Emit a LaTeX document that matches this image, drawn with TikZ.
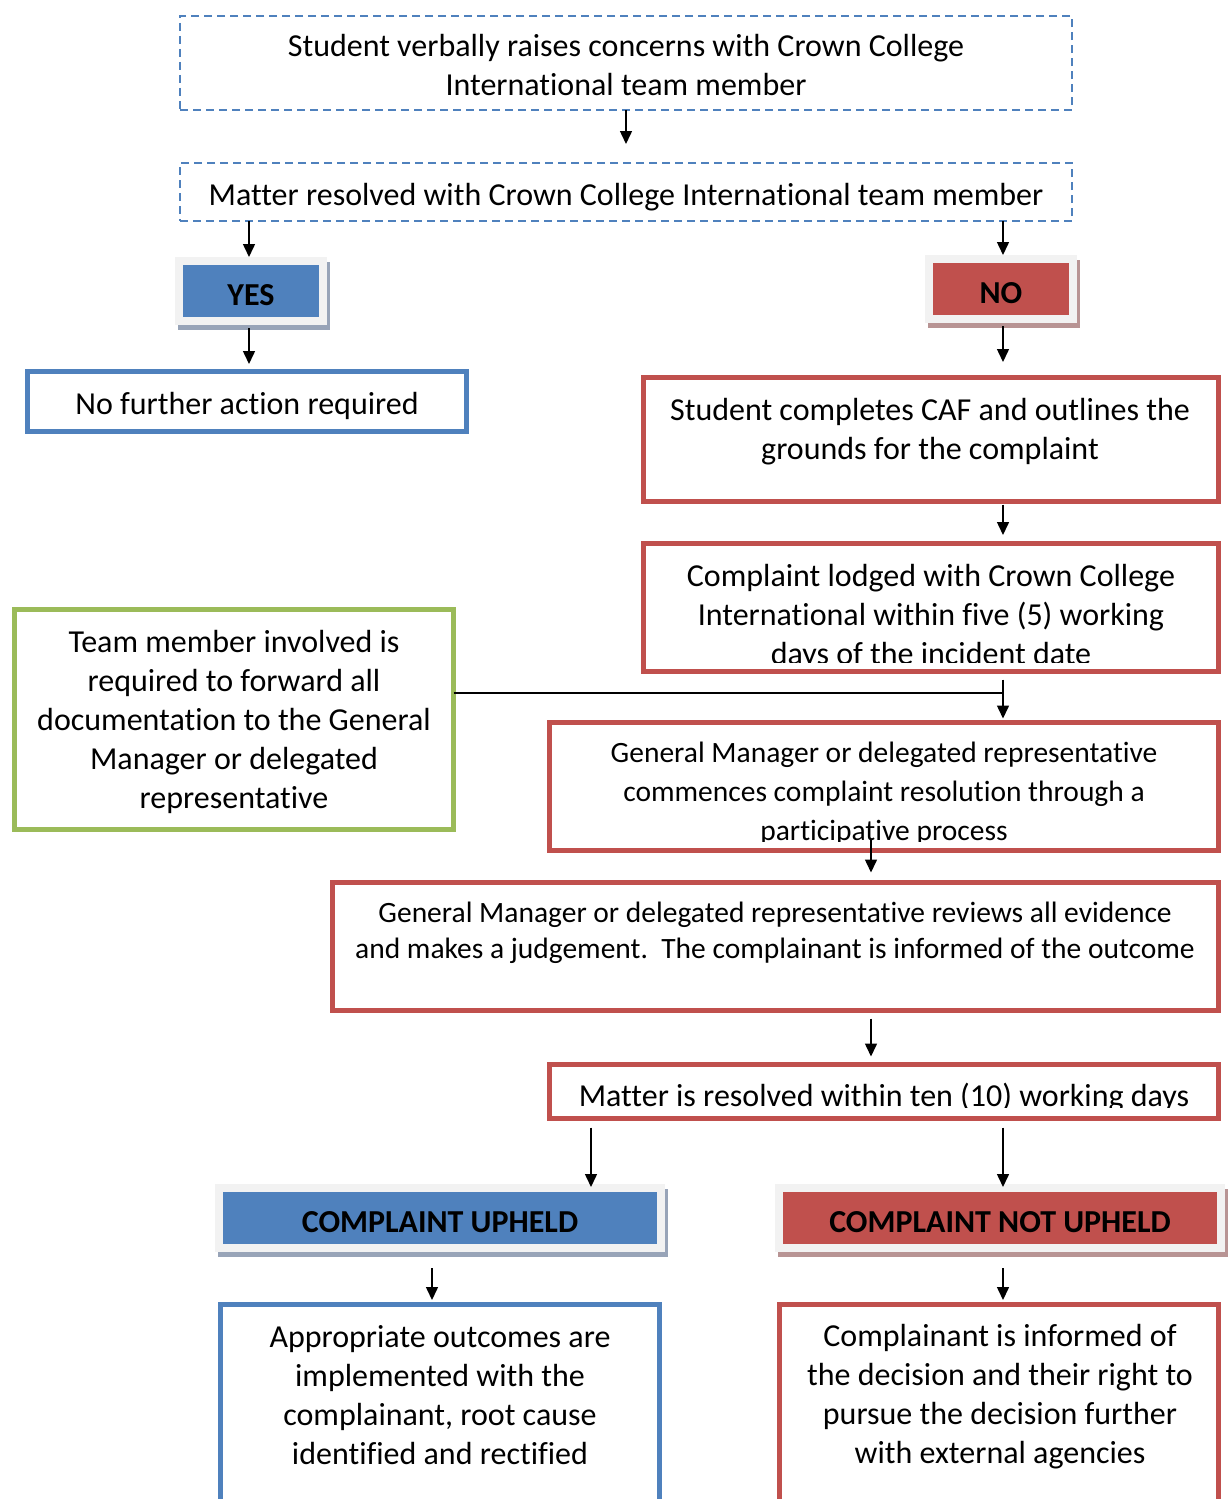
\documentclass[tikz,border=0pt]{standalone}
\usepackage{fontspec}
\setmainfont[Ligatures={NoCommon}]{Carlito}
\usetikzlibrary{arrows.meta,backgrounds}
\definecolor{cblue}{HTML}{4F81BD}
\definecolor{cred}{HTML}{C0504D}
\definecolor{cgreen}{HTML}{9BBB59}
\definecolor{cframe}{HTML}{F2F2F2}
\definecolor{bshadow}{HTML}{98A4B8}
\definecolor{rshadow}{HTML}{B89494}
\begin{document}
\begin{tikzpicture}[x=1pt,y=-1pt,
  dbox/.style={draw=cblue, line width=2pt, dash pattern=on 8pt off 5pt, anchor=north west, inner sep=0, outer sep=0},
  sbox/.style={draw=#1, line width=5pt, anchor=north west, inner sep=0, outer sep=0},
  lbl/.style={fill=#1, draw=cframe, line width=8pt, anchor=north west, inner sep=0, outer sep=0, text height=28.6pt, text depth=0pt, font=\fontsize{32}{39}\selectfont\bfseries},
  txt/.style={align=center, inner sep=0, font=\fontsize{32}{39}\selectfont},
  stxt/.style={align=center, inner sep=0, font=\fontsize{29.5}{39}\selectfont},
  arr/.style={-{Triangle[width=12pt,length=13pt]}, line width=1.5pt},
  link/.style={line width=1.5pt}]
\clip (0,0) rectangle (1231,1499);
% column coordinates
\coordinate (cT) at (626,0);
\coordinate (cY) at (249,0);
\coordinate (cR) at (1003,0);
\coordinate (cM) at (871,0);
\coordinate (cL) at (591,0);
\coordinate (cU) at (432,0);
\coordinate (j) at (1003,693);
% boxes
\node[dbox, minimum width=892, minimum height=94] (b1) at (180,16) {};
\node[dbox, minimum width=892, minimum height=58] (b2) at (180,163) {};
\node[lbl=cblue, minimum width=144, minimum height=60] (yes) at (179,261) {YES};
\node[lbl=cred, minimum width=144, minimum height=60] (no) at (929,259) {NO};
\node[sbox=cblue, minimum width=439, minimum height=60] (nfa) at (27.5,371.5) {};
\node[sbox=cred, minimum width=575, minimum height=124] (caf) at (643.5,377.5) {};
\node[sbox=cred, minimum width=575, minimum height=128] (lodged) at (643.5,543.5) {};
\node[sbox=cgreen, minimum width=439, minimum height=220] (green) at (14.5,609.5) {};
\node[sbox=cred, minimum width=669, minimum height=128] (gm) at (549.5,722.5) {};
\node[sbox=cred, minimum width=886, minimum height=128] (eval) at (332.5,882.5) {};
\node[sbox=cred, minimum width=669, minimum height=54] (mr) at (549.5,1064.5) {};
\node[lbl=cblue, minimum width=442, minimum height=60] (up) at (219,1188) {COMPLAINT UPHELD};
\node[lbl=cred, minimum width=442, minimum height=60] (nup) at (779,1188) {COMPLAINT NOT UPHELD};
\node[sbox=cblue, minimum width=439, minimum height=230] (upbox) at (220.5,1304.5) {};
\node[sbox=cred, minimum width=439, minimum height=230] (nupbox) at (779.5,1304.5) {};
% shadows
\begin{scope}[on background layer]
\fill[white] (0,0) rectangle (1231,1499);
\fill[bshadow] ([shift={(-1,1)}]yes.north west) rectangle ([shift={(7,9)}]yes.south east);
\fill[rshadow] ([shift={(-1,1)}]no.north west) rectangle ([shift={(7,9)}]no.south east);
\fill[bshadow] ([shift={(-1,1)}]up.north west) rectangle ([shift={(7,9)}]up.south east);
\fill[rshadow] ([shift={(-1,1)}]nup.north west) rectangle ([shift={(7,9)}]nup.south east);
\end{scope}
% texts
\node[txt] (t1) at (626,65.5) {Student verbally raises concerns with Crown College\\International team member};
\node[txt] (t2) at (626,197) {Matter resolved with Crown College International team member};
\node[txt] (tnfa) at (247,406) {No further action required};
\node[txt] (tcaf) at (930,431.5) {Student completes CAF and outlines the\\grounds for the complaint};
\begin{scope}
\clip (640,540) rectangle (1222,662);
\node[txt] (tlodged) at (931,617) {Complaint lodged with Crown College\\International within five (5) working\\days of the incident date};
\end{scope}
\node[txt] (tgreen) at (234,722) {Team member involved is\\required to forward all\\documentation to the General\\Manager or delegated\\representative};
\begin{scope}
\clip (546,719) rectangle (1222,841);
\node[stxt] (tgm) at (884,794) {General Manager or delegated representative\\commences complaint resolution through a\\participative process};
\end{scope}
\node[stxt, font=\fontsize{29.5}{36}\selectfont] (teval) at (775,933) {General Manager or delegated representative reviews all evidence\\and makes a judgement.\ \ The complainant is informed of the outcome};
\begin{scope}
\clip (546,1061) rectangle (1222,1107);
\node[txt] (tmr) at (884,1098) {Matter is resolved within ten (10) working days};
\end{scope}
\node[txt] (tup) at (440,1395.5) {Appropriate outcomes are\\implemented with the\\complainant, root cause\\identified and rectified};
\node[txt] (tnup) at (1000,1397) {Complainant is informed of\\the decision and their right to\\pursue the decision further\\with external agencies};
% connectors
\draw[arr, shorten >=19pt] (b1.south -| cT) -- (b2.north -| cT);
\draw[arr, shorten >=4pt] (b2.south -| cY) -- (yes.north -| cY);
\draw[arr, shorten >=4pt] (b2.south -| cR) -- (no.north -| cR);
\draw[arr, shorten <=7pt, shorten >=7.5pt] (yes.south -| cY) -- (nfa.north -| cY);
\draw[arr, shorten <=7pt, shorten >=15.5pt] (no.south -| cR) -- (caf.north -| cR);
\draw[arr, shorten <=3pt, shorten >=8.5pt] (caf.south -| cR) -- (lodged.north -| cR);
\draw[arr, shorten <=8pt, shorten >=4pt] (lodged.south -| cR) -- (gm.north -| cR);
\draw[link] (green.east |- j) -- (j);
\draw[arr, shorten <=-11pt, shorten >=10pt] (gm.south -| cM) -- (eval.north -| cM);
\draw[arr, shorten <=8pt, shorten >=8pt] (eval.south -| cM) -- (mr.north -| cM);
\draw[arr, shorten <=9pt, shorten >=1pt] (mr.south -| cL) -- (up.north -| cL);
\draw[arr, shorten <=9pt, shorten >=1pt] (mr.south -| cR) -- (nup.north -| cR);
\draw[arr, shorten <=20pt, shorten >=4.5pt] (up.south -| cU) -- (upbox.north -| cU);
\draw[arr, shorten <=20pt, shorten >=4.5pt] (nup.south -| cR) -- (nupbox.north -| cR);
\end{tikzpicture}
\end{document}
